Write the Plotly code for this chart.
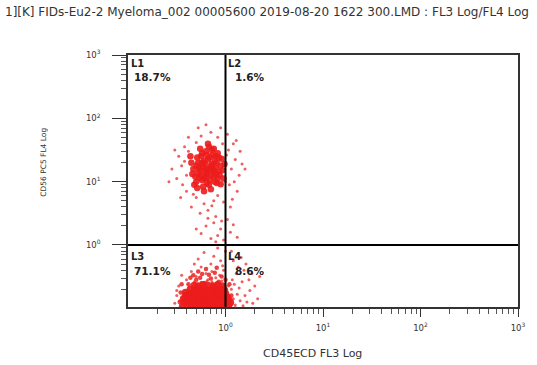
import plotly.graph_objects as go

# ---- data (log10 decades) ----
# upper population core (CD56+ , mostly L1)
upper_core = [
    (-0.20,1.20),(-0.15,1.25),(-0.25,1.10),(-0.18,1.35),(-0.22,1.05),(-0.12,1.15),(-0.28,1.30),(-0.10,1.40),
    (-0.30,1.00),(-0.17,0.95),(-0.08,1.05),(-0.24,1.45),(-0.14,1.50),(-0.33,1.20),(-0.05,1.25),(-0.21,1.28),
    (-0.26,1.18),(-0.11,1.32),(-0.19,1.12),(-0.16,1.02),(-0.29,1.38),(-0.07,1.16),(-0.23,0.92),(-0.13,1.42),
    (-0.31,1.08),(-0.09,0.98),(-0.27,1.22),(-0.20,1.48),(-0.15,0.88),(-0.04,1.36),(-0.35,1.30),(-0.18,1.18),
    (-0.12,1.08),(-0.25,1.40),(-0.06,1.10),(-0.22,1.33),(-0.28,1.14),(-0.10,1.22),(-0.17,1.55),(-0.32,0.95),
    (-0.03,1.18),(-0.24,1.02),(-0.14,1.28),(-0.19,0.98),(-0.08,1.45),(-0.26,1.52),(-0.21,1.15),(-0.11,1.00),
    (-0.30,1.25),(-0.16,1.38),(-0.02,1.05),(-0.23,1.24),(-0.13,1.20),(-0.27,1.06),(-0.09,1.30),(-0.19,1.42),
    (-0.34,1.12),(-0.05,0.96),(-0.15,1.10),(-0.22,0.85),(-0.18,1.60),(-0.01,1.28),(-0.36,1.40),(-0.12,1.52),
    (-0.29,0.90),(-0.07,1.38),(-0.24,1.30),(-0.10,1.12),(-0.20,1.06),(-0.16,1.20),
]
# upper population scattered events
upper_spread = [
    (-0.45,1.25),(-0.50,1.05),(-0.42,1.55),(-0.40,0.85),(-0.48,1.40),(-0.38,1.70),(-0.55,1.20),(-0.44,0.95),
    (0.03,1.50),(0.06,1.20),(0.10,1.35),(0.04,0.95),(0.14,1.10),(0.08,1.60),(0.02,1.75),(0.12,0.85),
    (0.17,1.28),(-0.15,1.78),(-0.25,1.72),(-0.08,1.70),(-0.30,1.62),(-0.05,1.85),(-0.20,1.90),(-0.12,0.70),
    (-0.22,0.65),(-0.30,0.75),(-0.08,0.78),(-0.18,0.55),(-0.35,0.60),(-0.02,0.68),(-0.26,0.50),(-0.10,0.45),
    (0.05,0.60),(-0.40,1.10),(-0.46,0.75),(0.00,1.00),(0.01,1.42),(-0.52,1.50),(0.09,1.00),(0.15,1.48),
    (-0.38,1.48),(-0.42,1.32),(0.07,0.72),(-0.14,0.62),(-0.28,1.85),(0.11,1.65),(-0.58,1.00),(0.20,1.20),
    (-0.03,1.60),(-0.33,0.80),
    (-0.12,0.35),(-0.05,0.25),(-0.20,0.30),(0.02,0.40),(-0.08,0.15),(-0.15,0.10),(0.05,0.20),(-0.02,0.08),
    (-0.25,0.18),(0.08,0.32),(-0.10,0.05),(-0.18,0.42),(0.12,0.12),(-0.04,0.38),(-0.30,0.25),
]
# lower population core (L3)
lower_core = [
    (-0.44,-0.97),(-0.38,-0.95),(-0.33,-0.96),(-0.29,-0.94),(-0.25,-0.97),(-0.21,-0.95),(-0.17,-0.96),(-0.13,-0.94),
    (-0.09,-0.97),(-0.05,-0.95),(-0.01,-0.96),(0.03,-0.94),
    (-0.42,-0.90),(-0.36,-0.92),(-0.31,-0.89),(-0.27,-0.91),(-0.23,-0.90),(-0.19,-0.92),(-0.15,-0.89),(-0.11,-0.91),
    (-0.07,-0.90),(-0.03,-0.92),(0.02,-0.89),(0.05,-0.91),
    (-0.43,-0.85),(-0.39,-0.87),(-0.34,-0.84),(-0.30,-0.86),(-0.26,-0.85),(-0.22,-0.87),(-0.18,-0.84),(-0.14,-0.86),
    (-0.10,-0.85),(-0.06,-0.87),(-0.02,-0.84),(0.03,-0.86),
    (-0.40,-0.80),(-0.35,-0.82),(-0.28,-0.79),(-0.24,-0.81),(-0.20,-0.80),(-0.16,-0.82),(-0.12,-0.79),(-0.08,-0.81),
    (-0.04,-0.80),(0.01,-0.82),
    (-0.41,-0.75),(-0.37,-0.77),(-0.32,-0.74),(-0.27,-0.76),(-0.22,-0.75),(-0.18,-0.77),(-0.13,-0.74),(-0.09,-0.76),
    (-0.05,-0.75),(0.00,-0.77),
    (-0.36,-0.70),(-0.31,-0.71),(-0.26,-0.69),(-0.21,-0.70),(-0.16,-0.72),(-0.11,-0.69),(-0.06,-0.71),(-0.02,-0.70),
    (-0.32,-0.64),(-0.28,-0.65),(-0.23,-0.63),(-0.18,-0.64),(-0.12,-0.66),(-0.08,-0.63),(-0.03,-0.65),
    (-0.35,-0.93),(-0.27,-0.88),(-0.20,-0.93),(-0.12,-0.88),(-0.32,-0.78),(-0.15,-0.78),(-0.24,-0.72),(-0.07,-0.93),
    (-0.41,-0.82),(-0.01,-0.72),
]
# lower population, medium density shoulder
lower_mid = [
    (-0.38,-0.62),(-0.30,-0.55),(-0.22,-0.60),(-0.15,-0.53),(-0.07,-0.58),(0.00,-0.55),(-0.33,-0.48),(-0.26,-0.52),
    (-0.17,-0.47),(-0.11,-0.44),(-0.04,-0.50),(-0.28,-0.42),(-0.20,-0.38),(-0.09,-0.36),(-0.36,-0.52),(-0.13,-0.62),
    (-0.24,-0.46),(-0.46,-0.75),(-0.47,-0.90),(-0.45,-0.62),(0.04,-0.62),(0.06,-0.80),(0.05,-0.95),
]
# lower population scattered events (L3 tail)
lower_spread = [
    (-0.32,-0.58),(-0.25,-0.59),(-0.19,-0.57),(-0.14,-0.58),(-0.09,-0.60),(-0.04,-0.57),
    (-0.30,-0.50),(-0.20,-0.45),(-0.10,-0.52),(-0.02,-0.40),(-0.25,-0.35),(-0.15,-0.30),(-0.05,-0.25),(-0.35,-0.42),
    (-0.12,-0.18),(-0.22,-0.12),(0.00,-0.10),(-0.08,-0.05),(-0.18,-0.55),(-0.40,-0.55),(-0.28,-0.22),(-0.03,-0.33),
    (-0.14,-0.42),(-0.45,-0.48),(-0.32,-0.30),(-0.06,-0.48),
    (-0.50,-0.80),(-0.52,-0.92),(-0.48,-0.65),(-0.50,-0.72),(-0.47,-0.88),
]
# L4 events (CD45 brighter, CD56-)
l4_pts = [
    (0.05,-0.92),(0.08,-0.85),(0.10,-0.95),(0.12,-0.78),(0.06,-0.70),(0.15,-0.88),(0.18,-0.96),(0.09,-0.62),
    (0.14,-0.68),(0.20,-0.80),(0.22,-0.90),(0.07,-0.55),(0.11,-0.45),(0.17,-0.58),(0.25,-0.72),(0.28,-0.92),
    (0.04,-0.80),(0.13,-0.35),(0.08,-0.25),(0.19,-0.40),(0.24,-0.55),(0.30,-0.65),(0.33,-0.85),(0.16,-0.20),
    (0.06,-0.10),(0.21,-0.30),(0.35,-0.50),(0.10,-0.99),(0.27,-0.45),(0.03,-0.65),
]

quadrant_names = ["L1", "L2", "L3", "L4"]
quadrant_pcts = ["18.7%", "1.6%", "71.1%", "8.6%"]
title_text = "1][K] FIDs-Eu2-2 Myeloma_002 00005600 2019-08-20 1622 300.LMD : FL3 Log/FL4 Log"
x_title = "CD45ECD FL3 Log"
y_title = "CD56 PC5 FL4 Log"
major_vals = [1, 10, 100, 1000]
major_text = ["10<sup>0</sup>", "10<sup>1</sup>", "10<sup>2</sup>", "10<sup>3</sup>"]
gate_x, gate_y = 1, 1

minor_vals = [k * 10.0 ** n for n in range(-1, 3) for k in range(2, 10)]

fig = go.Figure()
for pts, size, col in [
    (upper_spread, 3, "rgba(235,40,40,0.75)"),
    (lower_spread, 3, "rgba(235,40,40,0.75)"),
    (l4_pts, 3, "rgba(235,40,40,0.75)"),
    (lower_mid, 4.5, "rgba(236,30,30,0.85)"),
    (upper_core, 6.5, "rgba(236,28,28,0.9)"),
    (lower_core, 7.5, "rgba(236,28,28,0.95)"),
]:
    fig.add_trace(go.Scatter(
        x=[10 ** p[0] for p in pts], y=[10 ** p[1] for p in pts],
        mode="markers", marker=dict(size=size, color=col, line=dict(width=0)),
        showlegend=False, hoverinfo="skip"))

# quadrant gate lines
fig.add_trace(go.Scatter(x=[gate_x, gate_x], y=[1e-3, 1e5], mode="lines",
                         line=dict(color="black", width=2), showlegend=False, hoverinfo="skip"))
fig.add_trace(go.Scatter(x=[1e-3, 1e5], y=[gate_y, gate_y], mode="lines",
                         line=dict(color="black", width=2), showlegend=False, hoverinfo="skip"))

W, H = 537, 365
L, R, T, B = 128, 11, 55, 58
pw, ph = W - L - R, H - T - B

def px(xp):
    return (xp - L) / pw

def py(yp):
    return (H - B - yp) / ph

axis_common = dict(
    type="log", showgrid=False, zeroline=False,
    showline=True, linecolor="#333", linewidth=1.5, mirror=True,
    ticks="outside", tickvals=major_vals, ticktext=major_text,
    tickcolor="#333", tickwidth=1.2,
    tickfont=dict(family="DejaVu Sans", size=8.5, color="#333"),
    minor=dict(tickvals=minor_vals, ticks="outside", ticklen=5, tickcolor="#555", tickwidth=1, showgrid=False),
)
fig.update_xaxes(**axis_common, ticklen=8, range=[-1, 3], ticklabelstandoff=4)
fig.update_yaxes(**axis_common, ticklen=14, range=[-0.98, 3], ticklabelstandoff=10)

lab_pos = [(129, 63, 132, 77), (228, 63, 235, 77), (129, 256, 132, 271), (228, 256, 235, 271)]
for name, pct, (nx, ny, vx, vy) in zip(quadrant_names, quadrant_pcts, lab_pos):
    fig.add_annotation(x=px(nx), y=py(ny), xref="paper", yref="paper", text="<b>%s</b>" % name,
                       showarrow=False, xanchor="left", yanchor="middle",
                       font=dict(family="DejaVu Sans", size=10, color="#222"))
    fig.add_annotation(x=px(vx), y=py(vy), xref="paper", yref="paper", text="<b>%s</b>" % pct,
                       showarrow=False, xanchor="left", yanchor="middle",
                       font=dict(family="DejaVu Sans", size=10.5, color="#222"))

fig.add_annotation(x=px(316), y=py(353), xref="paper", yref="paper", text=x_title,
                   showarrow=False, xanchor="center", yanchor="middle",
                   font=dict(family="DejaVu Sans", size=11, color="#333"))
fig.add_annotation(x=px(41), y=py(162), xref="paper", yref="paper", text=y_title, textangle=-90,
                   showarrow=False, xanchor="center", yanchor="middle",
                   font=dict(family="DejaVu Sans", size=7.5, color="#333"))

fig.update_layout(
    width=W, height=H, margin=dict(l=L, r=R, t=T, b=B),
    paper_bgcolor="white", plot_bgcolor="white",
    title=dict(text=title_text, x=5 / W, xanchor="left", xref="container",
               y=1 - 12 / H, yanchor="middle", yref="container",
               font=dict(family="DejaVu Sans", size=12, color="#333")),
)
fig.write_html("out.html")
